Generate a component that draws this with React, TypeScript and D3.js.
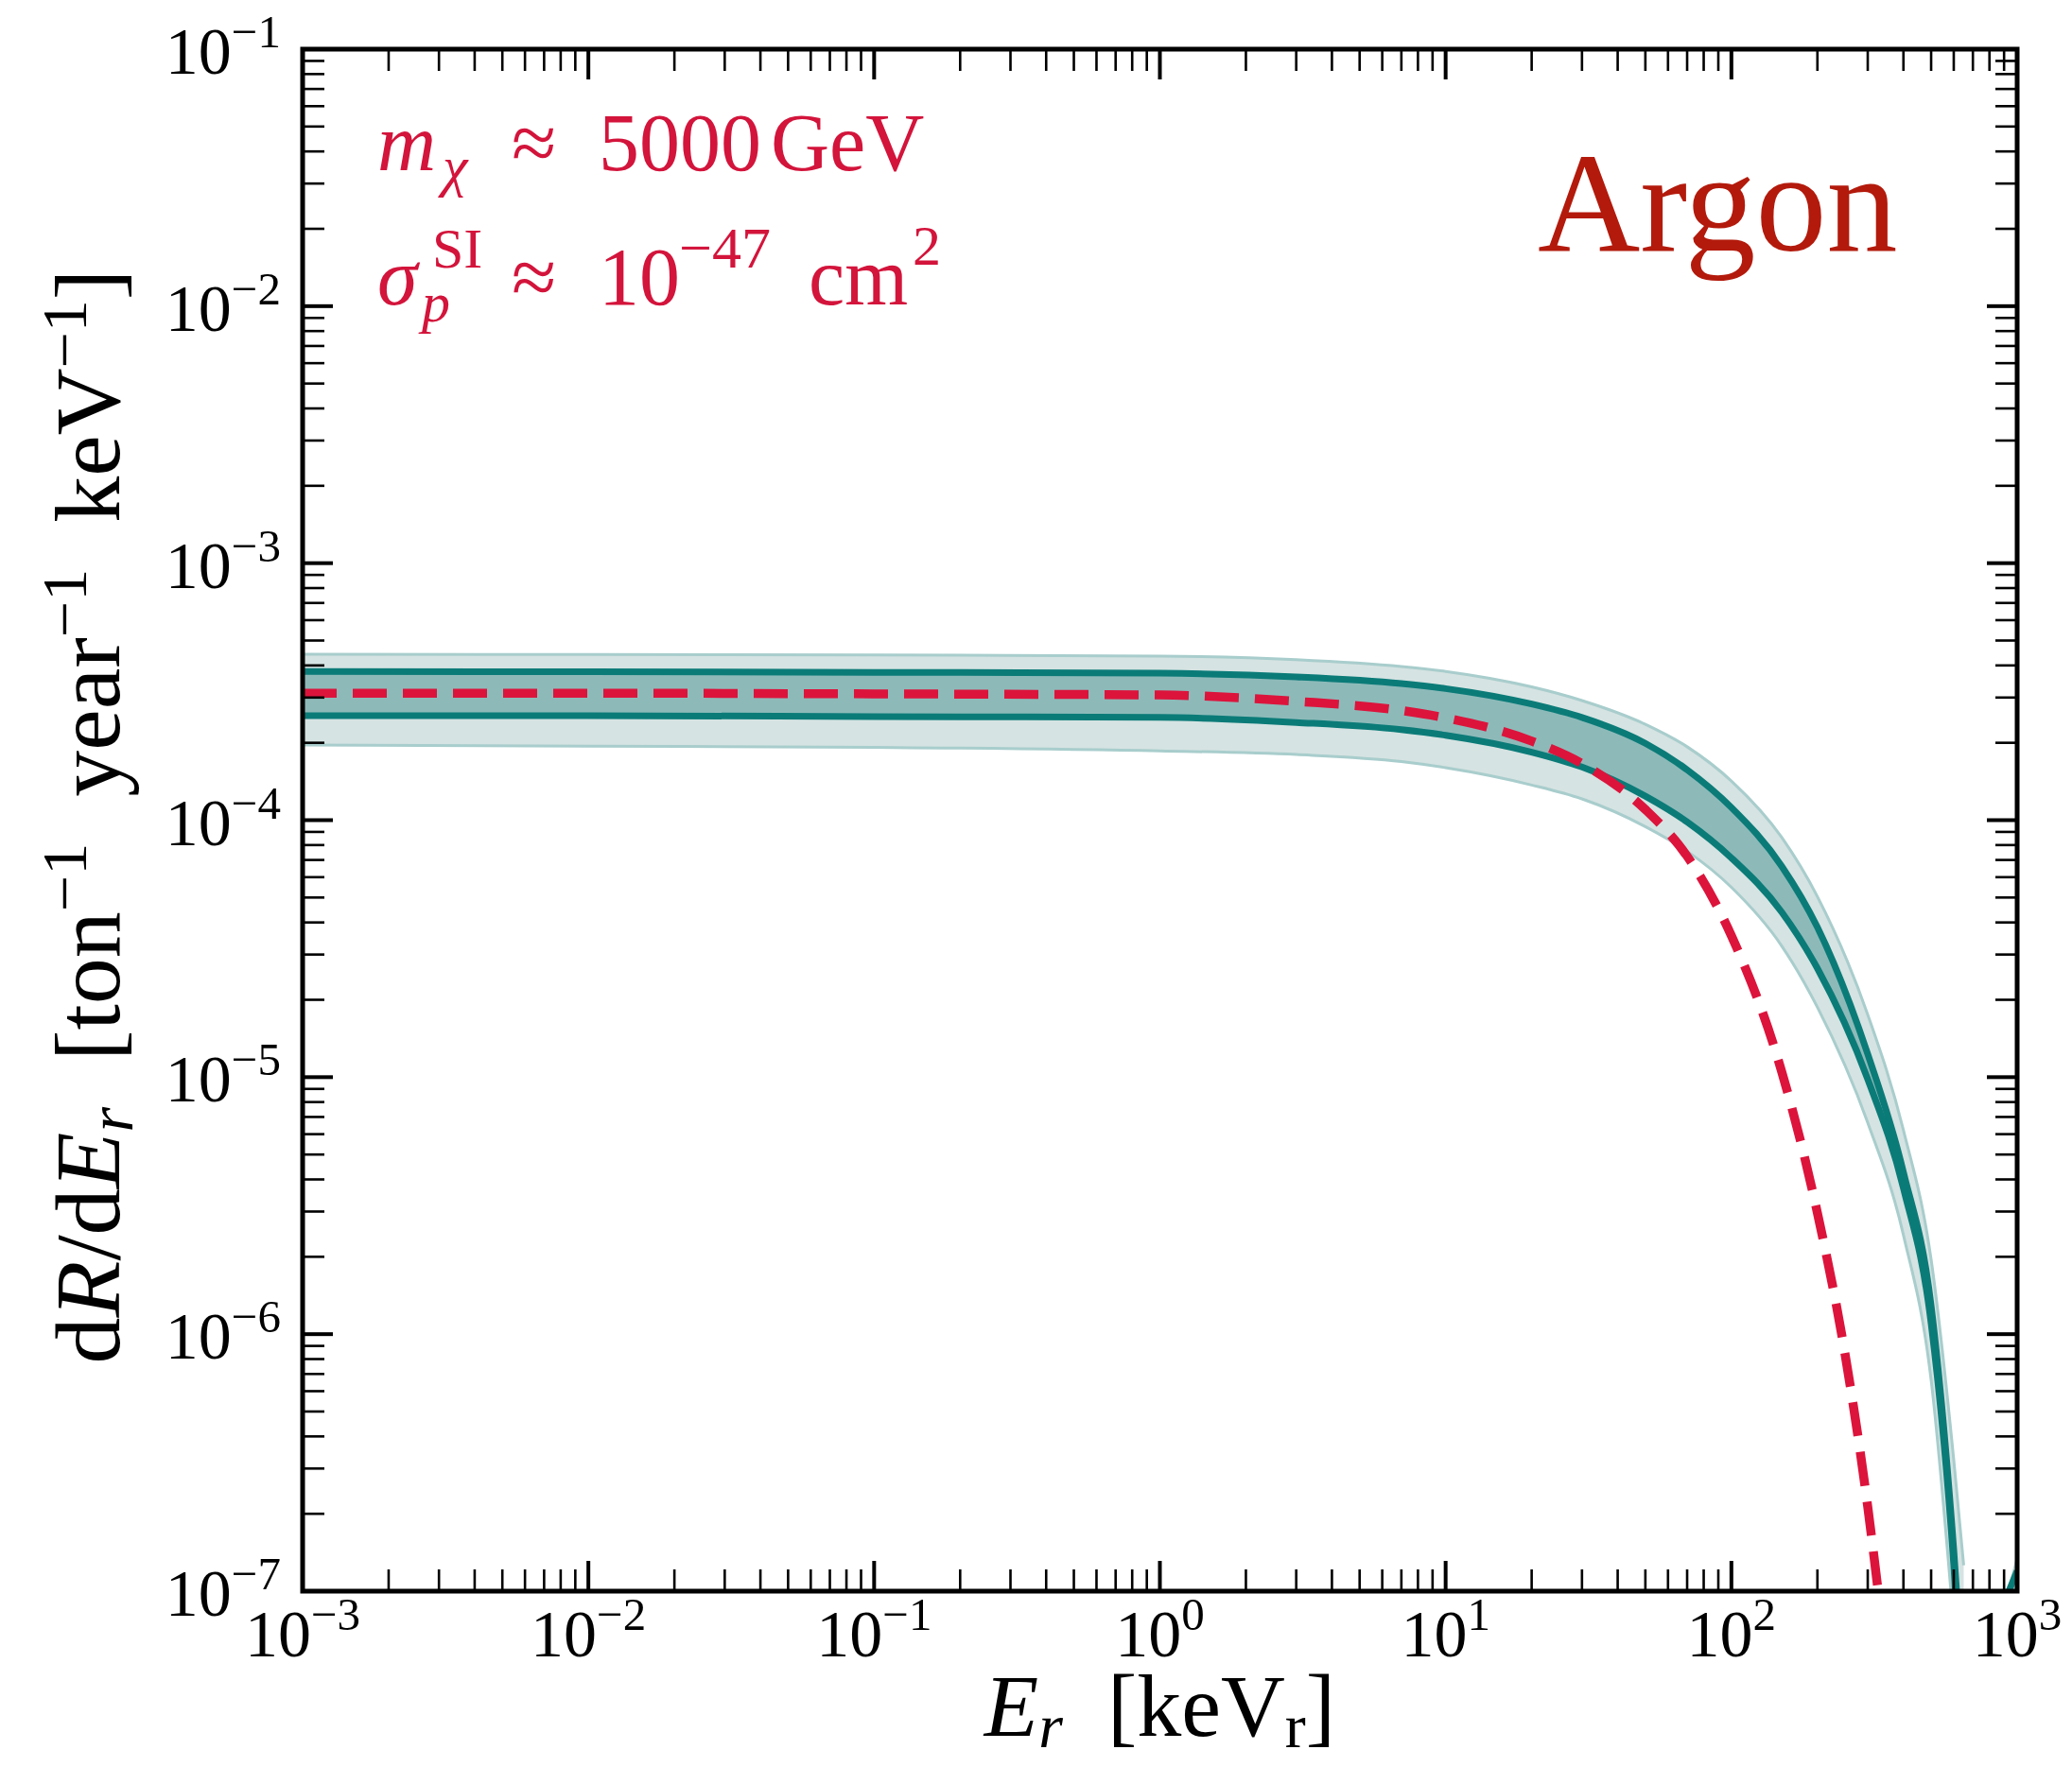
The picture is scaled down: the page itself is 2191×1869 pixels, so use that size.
import { useEffect, useRef } from 'react';
import * as d3 from 'd3';

// recoil energy grid for the teal bands [keV]
const energy = [0.001, 0.01, 0.1, 1, 3, 7, 10, 20, 30, 50, 70, 100, 150, 200, 300, 400, 500, 600, 650];
// light band (outer edges)
const outerUpper = [4.42e-4, 4.41e-4, 4.39e-4, 4.35e-4, 4.21e-4, 3.96e-4, 3.79e-4, 3.3e-4, 2.92e-4, 2.36e-4, 1.93e-4, 1.42e-4, 8.57e-5, 5.04e-5, 1.75e-5, 6.22e-6, 1.95e-6, 3.24e-7, 1.26e-7];
const outerLower = [1.96e-4, 1.94e-4, 1.92e-4, 1.86e-4, 1.8e-4, 1.69e-4, 1.6e-4, 1.37e-4, 1.21e-4, 9.44e-5, 7.57e-5, 5.48e-5, 3.24e-5, 1.87e-5, 6.65e-6, 2.43e-6, 6.64e-7, 7.4e-8, 2.5e-8];
// dark band (solid teal lines)
const innerUpper = [3.79e-4, 3.78e-4, 3.76e-4, 3.73e-4, 3.61e-4, 3.4e-4, 3.25e-4, 2.83e-4, 2.51e-4, 1.99e-4, 1.57e-4, 1.12e-4, 6.62e-5, 3.83e-5, 1.23e-5, 4.27e-6, 1.29e-6, 1.45e-7, 4.0e-8];
const innerLower = [2.55e-4, 2.55e-4, 2.53e-4, 2.51e-4, 2.4e-4, 2.25e-4, 2.14e-4, 1.84e-4, 1.61e-4, 1.24e-4, 9.84e-5, 7.13e-5, 4.39e-5, 2.65e-5, 9.82e-6, 3.69e-6, 1.1e-6, 1.26e-7, 3.0e-8];

// red dashed benchmark curve
const dashEnergy = [0.001, 0.01, 0.1, 1, 3, 7, 10, 20, 30, 50, 70, 100, 150, 200, 250, 300, 330];
const dashRate = [3.12e-4, 3.12e-4, 3.1e-4, 3.07e-4, 2.9e-4, 2.67e-4, 2.5e-4, 2.03e-4, 1.66e-4, 1.1e-4, 7.24e-5, 3.55e-5, 1.05e-5, 2.96e-6, 8.34e-7, 2.13e-7, 9.0e-8];

// band coming back up at the very right edge
const tailEnergy = [900, 1000];
const tailOuter = [9e-8, 1.41e-7];
const tailInner = [9e-8, 1.2e-7];

const xTickExps = [-3, -2, -1, 0, 1, 2, 3];
const yTickExps = [-7, -6, -5, -4, -3, -2, -1];

const W = 2191;
const H = 1869;
const FONT = "'Liberation Serif', 'Times New Roman', serif";
const TEAL = '#0b7b78';
const RED = '#dc143c';
const TEXT_RED = '#d3143b';

export default function App() {
    const svgRef = useRef<SVGSVGElement>(null);

    useEffect(() => {
        const svg = d3.select(svgRef.current);
        svg.selectAll('*').remove();

        const left = 320, right = 2133, top = 52, bottom = 1683;

        const x = d3.scaleLog().domain([1e-3, 1e3]).range([left, right]);
        const y = d3.scaleLog().domain([1e-7, 1e-1]).range([bottom, top]);

        svg.append('rect').attr('width', W).attr('height', H).attr('fill', '#fff');

        svg.append('defs').append('clipPath').attr('id', 'plot-clip')
            .append('rect')
            .attr('x', left).attr('y', top)
            .attr('width', right - left).attr('height', bottom - top);

        const plot = svg.append('g').attr('clip-path', 'url(#plot-clip)');

        const rows = energy.map((e, i) => ({
            e, oHi: outerUpper[i], oLo: outerLower[i], iHi: innerUpper[i], iLo: innerLower[i]
        }));
        const curve = d3.curveMonotoneX;

        // outer band
        plot.append('path')
            .datum(rows)
            .attr('fill', '#d5e3e2')
            .attr('d', d3.area<any>().x(d => x(d.e)).y0(d => y(d.oLo)).y1(d => y(d.oHi)).curve(curve));

        const edge = (key: string) => d3.line<any>().x(d => x(d.e)).y(d => y(d[key])).curve(curve);
        ['oHi', 'oLo'].forEach(k => {
            plot.append('path')
                .datum(rows)
                .attr('fill', 'none')
                .attr('stroke', '#a8cdcc')
                .attr('stroke-width', 3)
                .attr('d', edge(k));
        });

        // inner band
        plot.append('path')
            .datum(rows)
            .attr('fill', '#8dbab9')
            .attr('d', d3.area<any>().x(d => x(d.e)).y0(d => y(d.iLo)).y1(d => y(d.iHi)).curve(curve));

        ['iHi', 'iLo'].forEach(k => {
            plot.append('path')
                .datum(rows)
                .attr('fill', 'none')
                .attr('stroke', TEAL)
                .attr('stroke-width', 7)
                .attr('d', edge(k));
        });

        // tail at the far right
        const tail = tailEnergy.map((e, i) => ({ e, o: tailOuter[i], n: tailInner[i] }));
        plot.append('path')
            .datum(tail)
            .attr('fill', '#b7d3d2')
            .attr('d', d3.area<any>().x(d => x(d.e)).y0(() => y(5e-8)).y1(d => y(d.o)));
        plot.append('path')
            .datum(tail)
            .attr('fill', 'none')
            .attr('stroke', TEAL)
            .attr('stroke-width', 7)
            .attr('d', d3.line<any>().x(d => x(d.e)).y(d => y(d.n)));

        // dashed curve
        const dash = dashEnergy.map((e, i) => ({ e, v: dashRate[i] }));
        plot.append('path')
            .datum(dash)
            .attr('fill', 'none')
            .attr('stroke', RED)
            .attr('stroke-width', 9.5)
            .attr('stroke-dasharray', '36 17')
            .attr('d', d3.line<any>().x(d => x(d.e)).y(d => y(d.v)).curve(curve));

        // ticks on all four sides, pointing inward
        const axes = svg.append('g').attr('stroke', '#000');
        const major = 32, minor = 23;
        const decadeTicks = (exps: number[]) => {
            const out: { v: number, major: boolean }[] = [];
            exps.forEach((p, i) => {
                out.push({ v: Math.pow(10, p), major: true });
                if (i < exps.length - 1) {
                    for (let m = 2; m <= 9; m++) out.push({ v: m * Math.pow(10, p), major: false });
                }
            });
            return out;
        };

        decadeTicks(xTickExps).forEach(t => {
            const px = x(t.v);
            const len = t.major ? major : minor;
            const sw = t.major ? 4 : 2.6;
            axes.append('line').attr('x1', px).attr('x2', px).attr('y1', bottom).attr('y2', bottom - len).attr('stroke-width', sw);
            axes.append('line').attr('x1', px).attr('x2', px).attr('y1', top).attr('y2', top + len).attr('stroke-width', sw);
        });
        decadeTicks(yTickExps).forEach(t => {
            const py = y(t.v);
            const len = t.major ? major : minor;
            const sw = t.major ? 4 : 2.6;
            axes.append('line').attr('y1', py).attr('y2', py).attr('x1', left).attr('x2', left + len).attr('stroke-width', sw);
            axes.append('line').attr('y1', py).attr('y2', py).attr('x1', right).attr('x2', right - len).attr('stroke-width', sw);
        });

        svg.append('rect')
            .attr('x', left).attr('y', top)
            .attr('width', right - left).attr('height', bottom - top)
            .attr('fill', 'none')
            .attr('stroke', '#000')
            .attr('stroke-width', 5);

        // tick labels
        const labels = svg.append('g').attr('font-family', FONT).attr('fill', '#000');
        xTickExps.forEach(p => {
            const t = labels.append('text')
                .attr('x', x(Math.pow(10, p)))
                .attr('y', 1752)
                .attr('text-anchor', 'middle')
                .attr('font-size', 70);
            t.append('tspan').text('10');
            t.append('tspan').attr('dy', -28).attr('font-size', 49).text(p < 0 ? `\u2212${-p}` : `${p}`);
        });
        yTickExps.forEach(p => {
            const t = labels.append('text')
                .attr('x', 297)
                .attr('y', y(Math.pow(10, p)) + 26)
                .attr('text-anchor', 'end')
                .attr('font-size', 70);
            t.append('tspan').text('10');
            t.append('tspan').attr('dy', -28).attr('font-size', 49).text(`\u2212${-p}`);
        });

        // x-axis label
        const xl = labels.append('text')
            .attr('x', (left + right) / 2)
            .attr('y', 1836)
            .attr('text-anchor', 'middle')
            .attr('font-size', 94);
        xl.append('tspan').attr('font-style', 'italic').text('E');
        xl.append('tspan').attr('font-style', 'italic').attr('font-size', 66).attr('dy', 12).text('r');
        xl.append('tspan').attr('dy', -12).text('\u2002[keV');
        xl.append('tspan').attr('font-size', 66).attr('dy', 12).text('r');
        xl.append('tspan').attr('dy', -12).text(']');

        // y-axis label
        const yl = labels.append('text')
            .attr('transform', `translate(126,${(top + bottom) / 2 - 4}) rotate(-90)`)
            .attr('text-anchor', 'middle')
            .attr('font-size', 98);
        yl.append('tspan').text('d');
        yl.append('tspan').attr('font-style', 'italic').text('R');
        yl.append('tspan').text('/d');
        yl.append('tspan').attr('font-style', 'italic').text('E');
        yl.append('tspan').attr('font-style', 'italic').attr('font-size', 68).attr('dy', 14).text('r');
        const unit = (word: string, first: boolean) => {
            yl.append('tspan').attr('dy', first ? -14 : 35).text(`\u2002${first ? '[' : ''}${word}`);
            yl.append('tspan').attr('font-size', 68).attr('dy', -35).text('\u22121');
        };
        unit('ton', true);
        unit('year', false);
        unit('keV', false);
        yl.append('tspan').attr('dy', 35).text(']');

        // annotations
        const ann = svg.append('g').attr('font-family', FONT).attr('fill', TEXT_RED).attr('font-size', 86);
        ann.append('text').attr('x', 399).attr('y', 180).attr('font-style', 'italic').text('m');
        ann.append('text').attr('x', 468).attr('y', 196).attr('font-style', 'italic').attr('font-size', 60).text('\u03c7');
        ann.append('text').attr('x', 541).attr('y', 180).text('\u2248');
        ann.append('text').attr('x', 633).attr('y', 180).text('5000');
        ann.append('text').attr('x', 815).attr('y', 180).text('GeV');

        ann.append('text').attr('x', 399).attr('y', 322).attr('font-style', 'italic').text('\u03c3');
        ann.append('text').attr('x', 457).attr('y', 283).attr('font-size', 60).text('SI');
        ann.append('text').attr('x', 446).attr('y', 340).attr('font-style', 'italic').attr('font-size', 60).text('p');
        ann.append('text').attr('x', 541).attr('y', 322).text('\u2248');
        ann.append('text').attr('x', 633).attr('y', 322).text('10');
        ann.append('text').attr('x', 718).attr('y', 283).attr('font-size', 62).text('\u221247');
        ann.append('text').attr('x', 855).attr('y', 322).text('cm');
        ann.append('text').attr('x', 965).attr('y', 280).attr('font-size', 60).text('2');

        svg.append('text')
            .attr('x', 1626).attr('y', 265)
            .attr('font-family', FONT)
            .attr('font-size', 150)
            .attr('fill', '#b31a0c')
            .text('Argon');
    }, []);

    return (
        <svg
            ref={svgRef}
            width={W}
            height={H}
            style={{ position: 'absolute', left: 0, top: 0 }}
        />
    );
}
